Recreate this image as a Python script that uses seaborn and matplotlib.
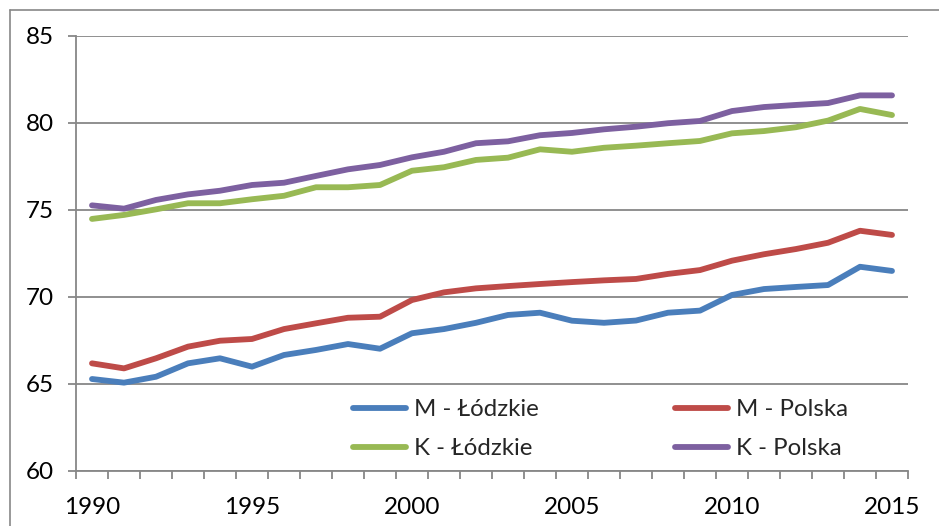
import numpy as np
import pandas as pd
import matplotlib
matplotlib.use("Agg")
import matplotlib.pyplot as plt
from matplotlib.lines import Line2D
from matplotlib.ticker import MultipleLocator, FixedLocator
import seaborn as sns

years = list(range(1990, 2016))
m_lodzkie = [65.27, 65.06, 65.40, 66.17, 66.46, 65.98, 66.65, 66.94, 67.28, 67.01,
             67.90, 68.14, 68.50, 68.95, 69.08, 68.62, 68.50, 68.63, 69.08, 69.20,
             70.10, 70.44, 70.56, 70.67, 71.72, 71.48]
m_polska = [66.17, 65.88, 66.46, 67.13, 67.47, 67.57, 68.14, 68.47, 68.79, 68.85,
            69.81, 70.25, 70.48, 70.61, 70.73, 70.84, 70.94, 71.02, 71.31, 71.53,
            72.07, 72.44, 72.74, 73.10, 73.79, 73.55]
k_lodzkie = [74.47, 74.70, 75.02, 75.37, 75.37, 75.60, 75.80, 76.29, 76.29, 76.42,
             77.24, 77.44, 77.86, 77.99, 78.47, 78.33, 78.56, 78.68, 78.82, 78.95,
             79.39, 79.52, 79.74, 80.12, 80.79, 80.44]
k_polska = [75.25, 75.06, 75.56, 75.88, 76.09, 76.42, 76.55, 76.94, 77.32, 77.57,
            78.01, 78.33, 78.82, 78.93, 79.28, 79.41, 79.62, 79.77, 79.97, 80.10,
            80.67, 80.90, 81.02, 81.13, 81.57, 81.57]
series_names = ["M - Łódzkie", "M - Polska", "K - Łódzkie", "K - Polska"]
colors = ["#4A7EBB", "#BE4B48", "#98B954", "#7D60A0"]

df = pd.concat([
    pd.DataFrame({"year": years, "value": vals, "series": name})
    for name, vals in zip(series_names, [m_lodzkie, m_polska, k_lodzkie, k_polska])
])

sns.set_theme(style="white")
plt.rcParams["font.family"] = ["Lato", "DejaVu Sans"]

fig = plt.figure(figsize=(9.39, 5.26), dpi=100)
W, H = 939, 526
ax = fig.add_axes([76 / W, (H - 470.7) / H, (908 - 76) / W, 435 / H])

LW = 4.2
sns.lineplot(data=df, x="year", y="value", hue="series", hue_order=series_names,
             palette=colors, linewidth=LW, ax=ax, legend=True,
             solid_capstyle="round", solid_joinstyle="round")

ax.set_xlim(1989.5, 2015.5)
ax.set_ylim(60, 85)
ax.set_xlabel("")
ax.set_ylabel("")

grid_c = "#878787"
ax.yaxis.set_major_locator(MultipleLocator(5))
ax.grid(axis="y", color=grid_c, linewidth=1.3)
ax.grid(axis="x", visible=False)
ax.set_axisbelow(True)

ax.set_xticks([1990, 1995, 2000, 2005, 2010, 2015])
ax.xaxis.set_minor_locator(FixedLocator([1989.5 + k for k in range(27)]))
ax.tick_params(axis="x", which="major", length=0, pad=19, labelsize=17.5, labelcolor="black")
ax.tick_params(axis="x", which="minor", length=6, width=1.3, color=grid_c, direction="out", bottom=True)
ax.tick_params(axis="y", which="major", length=6, width=1.3, color=grid_c, direction="out",
               left=True, pad=10, labelsize=17.5, labelcolor="black")

for side in ["top", "right"]:
    ax.spines[side].set_visible(False)
for side in ["left", "bottom"]:
    ax.spines[side].set_color(grid_c)
    ax.spines[side].set_linewidth(1.3)

handles, labels = ax.get_legend_handles_labels()
hmap = dict(zip(labels, handles))
order = ["M - Łódzkie", "K - Łódzkie", "M - Polska", "K - Polska"]
new_handles = [Line2D([0], [0], color=hmap[l].get_color(), linewidth=LW,
                      solid_capstyle="round") for l in order]
ax.legend(new_handles, order, ncol=2, frameon=False, fontsize=17.3,
          loc="upper left", bbox_to_anchor=((353 - 76) / 832, (470.7 - 399) / 435),
          handlelength=2.2, handletextpad=0.33, columnspacing=5.7, labelspacing=0.75,
          borderaxespad=0, borderpad=0)

# outer chart-area border (left and top visible)
fig.add_artist(Line2D([9.5 / W, 9.5 / W], [0, 1 - 9.5 / H], transform=fig.transFigure,
                      color=grid_c, linewidth=1.2))
fig.add_artist(Line2D([9.5 / W, 1], [1 - 9.5 / H, 1 - 9.5 / H], transform=fig.transFigure,
                      color=grid_c, linewidth=1.2))

fig.savefig("out.png", dpi=100)
